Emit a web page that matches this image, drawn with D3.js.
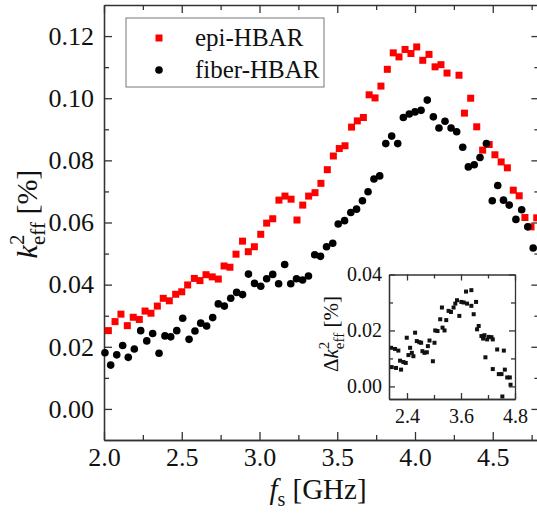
<!DOCTYPE html>
<meta charset="utf-8">
<style>
  body { margin: 0; background: #fff; }
  text { font-family: "Liberation Serif", "Times New Roman", serif; fill: #111; }
  .axis path, .axis line { stroke: #333; stroke-width: 1.3px; }
  .axis text { font-size: 26px; }
  .inset .axis text { font-size: 20px; }
</style>
<body>
<script src="https://d3js.org/d3.v7.min.js"></script>
<script>

// epi-HBAR (red squares)
const epiF = [2.028,2.071,2.109,2.150,2.188,2.227,2.264,2.302,2.343,2.381,2.420,2.461,2.500,2.538,2.581,2.617,2.656,2.696,2.735,2.772,
  2.810,2.849,2.891,2.928,2.967,3.008,3.046,3.085,3.125,3.164,3.203,3.241,3.278,3.316,3.357,3.395,3.436,3.475,3.513,3.550,
  3.592,3.629,3.668,3.705,3.743,3.781,3.822,3.860,3.897,3.936,3.974,4.011,4.050,4.090,4.129,4.167,4.206,4.283,4.318,4.358,
  4.397,4.435,4.477,4.514,4.554,4.594,4.632,4.670,4.707,4.746,4.783];
const epiK = [0.0252,0.0281,0.0305,0.0268,0.0295,0.0288,0.0315,0.0308,0.0331,0.0356,0.0348,0.0369,0.0377,0.0399,0.0420,0.0413,0.0432,0.0425,0.0418,0.0460,
  0.0456,0.0498,0.0540,0.0506,0.0522,0.0562,0.0598,0.0612,0.0672,0.0685,0.0675,0.0608,0.0656,0.0685,0.0696,0.0726,0.0770,0.0814,0.0838,0.0847,
  0.0907,0.0927,0.0938,0.1011,0.1001,0.1039,0.1093,0.1146,0.1133,0.1157,0.1144,0.1165,0.1122,0.1141,0.1101,0.1108,0.1081,0.1074,0.0952,0.1000,
  0.0908,0.0833,0.0851,0.0818,0.0795,0.0776,0.0704,0.0686,0.0616,0.0586,0.0615];

// fiber-HBAR (black circles)
const fiberF = [2.006,2.043,2.082,2.120,2.156,2.195,2.236,2.275,2.313,2.354,2.392,2.429,2.468,2.506,2.547,2.585,2.622,2.660,2.699,2.735,
  2.774,2.815,2.853,2.891,2.929,2.968,3.008,3.046,3.085,3.123,3.162,3.201,3.238,3.277,3.315,3.355,3.392,3.431,3.471,3.506,
  3.547,3.587,3.624,3.662,3.698,3.736,3.773,3.812,3.850,3.889,3.925,3.963,4.000,4.039,4.079,4.118,4.154,4.193,4.232,4.268,
  4.307,4.343,4.381,4.418,4.459,4.497,4.532,4.569,4.606,4.649,4.686,4.725,4.760];
const fiberK = [0.0181,0.0141,0.0174,0.0204,0.0166,0.0193,0.0252,0.0219,0.0243,0.0179,0.0235,0.0232,0.0252,0.0292,0.0224,0.0251,0.0276,0.0267,0.0294,0.0338,
  0.0331,0.0356,0.0375,0.0368,0.0434,0.0404,0.0395,0.0419,0.0433,0.0403,0.0465,0.0403,0.0419,0.0415,0.0428,0.0496,0.0491,0.0522,0.0533,0.0595,
  0.0606,0.0632,0.0643,0.0670,0.0699,0.0740,0.0750,0.0854,0.0878,0.0854,0.0938,0.0949,0.0956,0.0961,0.0994,0.0940,0.0904,0.0926,0.0904,0.0892,
  0.0842,0.0779,0.0786,0.0809,0.0854,0.0670,0.0719,0.0672,0.0656,0.0610,0.0641,0.0586,0.0518];

// inset: delta k2
const insetF = [2.045,2.060,2.134,2.156,2.208,2.246,2.268,2.320,2.372,2.395,2.432,2.469,2.507,2.542,2.580,2.618,2.676,2.714,2.743,2.788,
  2.841,2.864,2.900,2.975,3.011,3.027,3.078,3.138,3.176,3.190,3.234,3.272,3.324,3.377,3.435,3.473,3.511,3.563,3.607,3.659,
  3.712,3.734,3.830,3.830,3.882,3.935,3.957,3.993,4.054,4.091,4.121,4.143,4.181,4.217,4.277,4.306,4.306,4.404,4.440,4.500,
  4.519,4.552,4.574,4.627,4.685,4.701];
const insetD = [0.0138,0.0069,0.0134,0.0066,0.0128,0.0092,0.0060,0.0087,0.0084,0.0174,0.0112,0.0138,0.0120,0.0108,0.0192,0.0162,0.0158,0.0156,0.0126,0.0120,
  0.0122,0.0144,0.0164,0.0090,0.0156,0.0200,0.0198,0.0240,0.0282,0.0210,0.0200,0.0237,0.0270,0.0266,0.0282,0.0296,0.0308,0.0252,0.0302,0.0300,
  0.0339,0.0296,0.0344,0.0288,0.0258,0.0302,0.0204,0.0216,0.0180,0.0171,0.0183,0.0104,0.0168,0.0177,0.0176,0.0168,0.0062,0.0132,0.0044,0.0044,
  -0.0036,0.0128,0.0060,0.0032,0.0032,0.0006];

const seriesNames = ["epi-HBAR", "fiber-HBAR"];
const xTicks = [2.0, 2.5, 3.0, 3.5, 4.0, 4.5];
const xMinor = [2.25, 2.75, 3.25, 3.75, 4.25, 4.75];
const yTicks = [0.00, 0.02, 0.04, 0.06, 0.08, 0.10, 0.12];
const yMinor = [0.01, 0.03, 0.05, 0.07, 0.09, 0.11];
const insetXTicks = [2.4, 3.6, 4.8];
const insetXMinor = [3.0, 4.2];
const insetYTicks = [0.00, 0.02, 0.04];
const insetYMinor = [0.01, 0.03];

const width = 537, height = 514;

const svg = d3.select("body").append("svg")
  .attr("width", width)
  .attr("height", height);

const x = d3.scaleLinear().domain([2, 4.8]).range([104, 539.4]);
const y = d3.scaleLinear().domain([-0.01, 0.13]).range([440, 5]);

// helper: a frame of four axes with inward ticks
function frame(g, xs, ys, o) {
  const [x0, x1] = xs.range(), [y0, y1] = ys.range();
  g.append("g").attr("class", "axis").attr("transform", `translate(0,${y0})`)
    .call(d3.axisBottom(xs).tickValues(o.xt).tickSize(-o.big).tickSizeOuter(0).tickPadding(o.xpad).tickFormat(d3.format(".1f")));
  g.append("g").attr("class", "axis").attr("transform", `translate(0,${y0})`)
    .call(d3.axisBottom(xs).tickValues(o.xm).tickSize(-o.small).tickSizeOuter(0).tickFormat(""));
  g.append("g").attr("class", "axis").attr("transform", `translate(0,${y1})`)
    .call(d3.axisTop(xs).tickValues(o.xt.concat(o.xm)).tickSize(-o.big).tickSizeOuter(0).tickFormat(""))
    .selectAll(".tick line").filter(d => o.xm.includes(d)).attr("y2", o.small);
  g.append("g").attr("class", "axis").attr("transform", `translate(${x0},0)`)
    .call(d3.axisLeft(ys).tickValues(o.yt).tickSize(-o.big).tickSizeOuter(0).tickPadding(o.ypad).tickFormat(d3.format(".2f")));
  g.append("g").attr("class", "axis").attr("transform", `translate(${x0},0)`)
    .call(d3.axisLeft(ys).tickValues(o.ym).tickSize(-o.small).tickSizeOuter(0).tickFormat(""));
  g.append("g").attr("class", "axis").attr("transform", `translate(${x1},0)`)
    .call(d3.axisRight(ys).tickValues(o.yt.concat(o.ym)).tickSize(-o.big).tickSizeOuter(0).tickFormat(""))
    .selectAll(".tick line").filter(d => o.ym.includes(d)).attr("x2", -o.small);
  g.selectAll(".axis text").attr("fill", "#111");
}

frame(svg.append("g"), x, y, {xt: xTicks, xm: xMinor, yt: yTicks, ym: yMinor, big: 8, small: 5, xpad: 8, ypad: 10});

// data
svg.append("g").selectAll("rect")
  .data(epiF.map((f, i) => [f, epiK[i]]))
  .join("rect")
  .attr("x", d => x(d[0]) - 3.5)
  .attr("y", d => y(d[1]) - 3.5)
  .attr("width", 7).attr("height", 7)
  .attr("fill", "#ff0000");

svg.append("g").selectAll("circle")
  .data(fiberF.map((f, i) => [f, fiberK[i]]))
  .join("circle")
  .attr("cx", d => x(d[0]))
  .attr("cy", d => y(d[1]))
  .attr("r", 3.8)
  .attr("fill", "#000");

// legend
const leg = svg.append("g");
leg.append("rect").attr("x", 126).attr("y", 18).attr("width", 198).attr("height", 69)
  .attr("fill", "#fff").attr("stroke", "#777").attr("stroke-width", 1);
leg.append("rect").attr("x", 155.5).attr("y", 34.5).attr("width", 7).attr("height", 7).attr("fill", "#ff0000");
leg.append("circle").attr("cx", 159).attr("cy", 70).attr("r", 3.8).attr("fill", "#000");
leg.selectAll("text.lab").data(seriesNames).join("text")
  .attr("class", "lab")
  .attr("x", 195).attr("y", (d, i) => 46 + i * 32)
  .style("font-size", "25px")
  .text(d => d);

// axis titles
const yl = svg.append("text").attr("transform", "translate(37,214) rotate(-90)")
  .attr("text-anchor", "middle").style("font-size", "30px");
yl.append("tspan").style("font-style", "italic").text("k");
yl.append("tspan").style("font-size", "21px").attr("dy", -13).text("2");
yl.append("tspan").style("font-size", "21px").attr("dx", -10.5).attr("dy", 21).text("eff");
yl.append("tspan").attr("dy", -8).text(" [%]");

const xl = svg.append("text").attr("x", 318).attr("y", 499)
  .attr("text-anchor", "middle").style("font-size", "29px");
xl.append("tspan").style("font-style", "italic").text("f");
xl.append("tspan").style("font-size", "20px").attr("dy", 7).text("s");
xl.append("tspan").attr("dy", -7).text(" [GHz]");

// inset
const ix = d3.scaleLinear().domain([2, 4.8]).range([389, 515]);
const iy = d3.scaleLinear().domain([-0.0045, 0.04]).range([399, 274.5]);
const inset = svg.append("g").attr("class", "inset");
inset.append("rect").attr("x", 389).attr("y", 274.5).attr("width", 126).attr("height", 124.5)
  .attr("fill", "#fff");
inset.append("g").selectAll("rect")
  .data(insetF.map((f, i) => [f, insetD[i]]))
  .join("rect")
  .attr("x", d => ix(d[0]) - 2)
  .attr("y", d => iy(d[1]) - 2)
  .attr("width", 4).attr("height", 4)
  .attr("fill", "#111");
frame(inset, ix, iy, {xt: insetXTicks, xm: insetXMinor, yt: insetYTicks, ym: insetYMinor, big: 6, small: 4, xpad: 10, ypad: 7});
inset.selectAll(".axis path").attr("stroke", "#111").attr("stroke-width", 1.5);

const il = svg.append("text").attr("transform", "translate(338,334) rotate(-90)")
  .attr("text-anchor", "middle").style("font-size", "21px");
il.append("tspan").text("Δ");
il.append("tspan").style("font-style", "italic").text("k");
il.append("tspan").style("font-size", "15px").attr("dy", -9).text("2");
il.append("tspan").style("font-size", "15px").attr("dx", -7.5).attr("dy", 15).text("eff");
il.append("tspan").attr("dy", -6).text(" [%]");

</script>
</body>
